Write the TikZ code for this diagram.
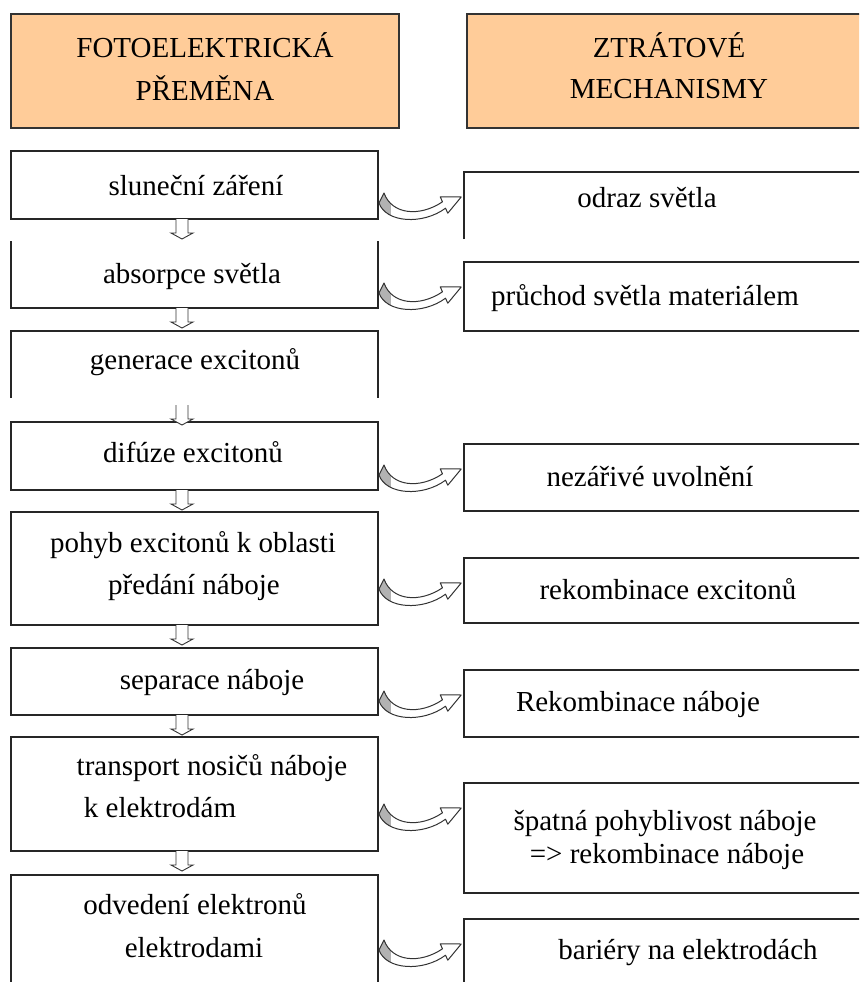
\documentclass[tikz,border=0pt]{standalone}
\usepackage{fontspec}
\setmainfont{Liberation Serif}
\usetikzlibrary{calc}
\definecolor{peach}{RGB}{255,204,153}
\newcommand\curvpath{(6,0) -- (1,10) .. controls (8,30) and (45,32) .. (67.5,15.2) -- (69.8,20.2) -- (83.2,4.0) -- (62.2,3.8) -- (64.5,8.8) .. controls (42,24) and (14,22) .. (6,0) -- cycle}
\newcommand\downpath{(-6,0) -- (-6,14) -- (-11,14) -- (0,20) -- (11,14) -- (6,14) -- (6,0)}
\begin{document}
\begin{tikzpicture}[x=1pt,y=-1pt,
  edge/.style={draw=black!85,line width=1.4pt},
  bx/.style={anchor=north west,minimum width=367pt,inner sep=0pt,outer sep=0pt},
  rbx/.style={anchor=north west,minimum width=420pt,inner sep=0pt,outer sep=0pt},
  hdr/.style={anchor=north west,inner sep=0pt,outer sep=0pt,minimum height=114pt,draw=black!80,line width=1.5pt,fill=peach},
  txt/.style={inner sep=0pt,font=\fontsize{29}{35}\selectfont,text height=20pt,text depth=6pt,anchor=center},
  curvarr/.pic={
    \fill[white] \curvpath;
    \begin{scope}
      \clip \curvpath;
      \fill[gray!60] (-2,-2) rectangle (13,34);
    \end{scope}
    \draw[line width=1pt,draw=black!80,line join=round] \curvpath;
  },
  downarr/.pic={
    \fill[white] \downpath -- cycle;
    \draw[line width=0.9pt,draw=black!80,line join=miter] \downpath;
  }]
\useasboundingbox (0,0) rectangle (859,982);
\clip (0,0) rectangle (859,982);

% headers
\node[hdr,minimum width=388pt] (h1) at (11,14) {};
\node[hdr,minimum width=420pt] (h2) at (467,14) {};
\node[txt] (h1a) at (205,51) {FOTOELEKTRICKÁ};
\node[txt] (h1b) at (205,93) {PŘEMĚNA};
\node[txt] (h2a) at (669,50) {ZTRÁTOVÉ};
\node[txt] (h2b) at (669,92) {MECHANISMY};

% left boxes
\node[bx,edge,minimum height=68pt] (b1) at (11,151) {};
\node[bx,minimum height=67pt] (b2) at (11,241) {};
\draw[edge] (b2.north west) -- (b2.south west) -- (b2.south east) -- (b2.north east);
\node[bx,minimum height=67pt] (b3) at (11,331) {};
\draw[edge] (b3.south west) -- (b3.north west) -- (b3.north east) -- (b3.south east);
\node[bx,edge,minimum height=68pt] (b4) at (11,422) {};
\node[bx,edge,minimum height=113pt] (b5) at (11,512) {};
\node[bx,edge,minimum height=67pt] (b6) at (11,648) {};
\node[bx,edge,minimum height=114pt] (b7) at (11,737) {};
\node[bx,edge,minimum height=130pt] (b8) at (11,875) {};

% right boxes
\node[rbx,minimum height=67pt] (r1) at (464,172) {};
\draw[edge] (r1.south west) -- (r1.north west) -- (r1.north east);
\node[rbx,edge,minimum height=69pt] (r2) at (464,262) {};
\node[rbx,edge,minimum height=67pt] (r3) at (464,444) {};
\node[rbx,edge,minimum height=65pt] (r4) at (464,558) {};
\node[rbx,edge,minimum height=67pt] (r5) at (464,670) {};
\node[rbx,edge,minimum height=110pt] (r6) at (464,783) {};
\node[rbx,edge,minimum height=90pt] (r7) at (464,919) {};

% texts
\node[txt] (t1) at (196,188) {sluneční záření};
\node[txt] (t2) at (192,276) {absorpce světla};
\node[txt] (t3) at (195,362) {generace excitonů};
\node[txt] (t4) at (193,455) {difúze excitonů};
\node[txt] (t5a) at (193,545) {pohyb excitonů k oblasti};
\node[txt] (t5b) at (194,587) {předání náboje};
\node[txt] (t6) at (212,682) {separace náboje};
\node[txt] (t7a) at (212,768) {transport nosičů náboje};
\node[txt] (t7b) at (160,810) {k elektrodám};
\node[txt] (t8a) at (195,907) {odvedení elektronů};
\node[txt] (t8b) at (194,950) {elektrodami};

\node[txt] (s1) at (647,200) {odraz světla};
\node[txt] (s2) at (645,298) {průchod světla materiálem};
\node[txt] (s3) at (650,479) {nezářivé uvolnění};
\node[txt] (s4) at (668,592) {rekombinace excitonů};
\node[txt] (s5) at (638,704) {Rekombinace náboje};
\node[txt] (s6a) at (665,823) {špatná pohyblivost náboje};
\node[txt] (s6b) at (667,856) {=> rekombinace náboje};
\node[txt] (s7) at (688,952) {bariéry na elektrodách};

% down arrows
\pic at ($(b1.south west)+(171,0)$) {downarr};
\pic at ($(b2.south west)+(171,0)$) {downarr};
\pic at ($(b3.south west)+(171,7)$) {downarr};
\pic at ($(b4.south west)+(171,0)$) {downarr};
\pic at ($(b5.south west)+(171,0)$) {downarr};
\pic at ($(b6.south west)+(171,0)$) {downarr};
\pic at ($(b7.south west)+(171,0)$) {downarr};

% curved arrows
\pic at ($(b1.east |- r1.north)+(0,21)$) {curvarr};
\pic at ($(b2.east |- r2.north)+(0,21)$) {curvarr};
\pic at ($(b4.east |- r3.north)+(0,21)$) {curvarr};
\pic at ($(b5.east |- r4.north)+(0,21)$) {curvarr};
\pic at ($(b6.east |- r5.north)+(0,21)$) {curvarr};
\pic at ($(b7.east |- r6.north)+(0,21)$) {curvarr};
\pic at ($(b8.east |- r7.north)+(0,21)$) {curvarr};
\end{tikzpicture}
\end{document}
